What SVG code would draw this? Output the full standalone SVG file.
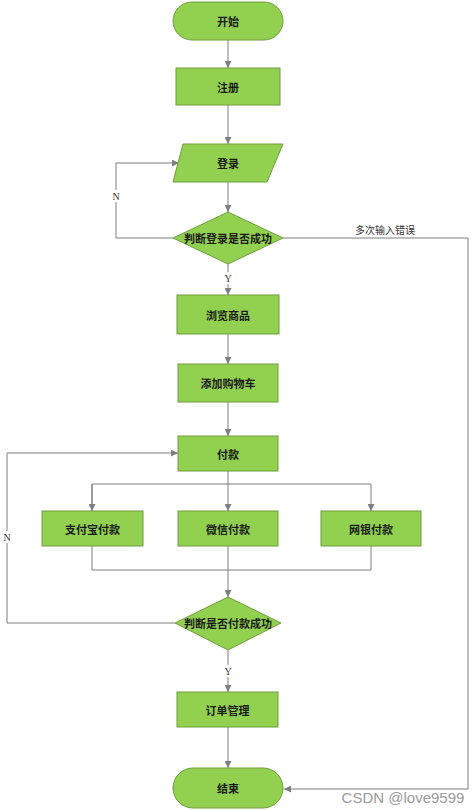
<svg xmlns="http://www.w3.org/2000/svg" width="474" height="810" viewBox="0 0 474 810">
<style>
.n{fill:#92D050;stroke:#6E9E3C;stroke-width:1}
.t{font-family:"Noto Sans CJK SC","Noto Sans",sans-serif;font-size:11px;font-weight:bold;fill:#1a1a1a;text-anchor:middle;dominant-baseline:central}
.c{fill:none;stroke:#7F7F7F;stroke-width:1}
.l{font-family:"Liberation Serif","Noto Sans CJK SC",serif;font-size:10px;fill:#333;text-anchor:middle;dominant-baseline:central}
</style>
<defs>
<marker id="a" viewBox="0 0 8 8" refX="8" refY="4" markerWidth="7" markerHeight="7" orient="auto" markerUnits="userSpaceOnUse">
<path d="M0,0 L8,4 L0,8 Z" fill="#7F7F7F"/>
</marker>
</defs>
<rect width="474" height="810" fill="#fff"/>
<g id="connectors">
<path class="c" d="M228,40 V68" marker-end="url(#a)"/>
<path class="c" d="M228,105 V144" marker-end="url(#a)"/>
<path class="c" d="M228,182 V212" marker-end="url(#a)"/>
<path class="c" d="M173,238 H116 V163 H179" marker-end="url(#a)"/>
<path class="c" d="M283,238 H468 V789 H284" marker-end="url(#a)"/>
<path class="c" d="M228,264 V295" marker-end="url(#a)"/>
<path class="c" d="M228,334 V364" marker-end="url(#a)"/>
<path class="c" d="M228,402 V436" marker-end="url(#a)"/>
<path class="c" d="M228,471 V511" marker-end="url(#a)"/>
<path class="c" d="M92,511 V484 H371 V511" marker-end="url(#a)"/>
<path class="c" d="M92,484 V511" marker-end="url(#a)"/>
<path class="c" d="M92,546 V570 H371 V546"/>
<path class="c" d="M228,546 V597" marker-end="url(#a)"/>
<path class="c" d="M175,623 H7 V453 H178" marker-end="url(#a)"/>
<path class="c" d="M228,650 V692" marker-end="url(#a)"/>
<path class="c" d="M228,727 V768" marker-end="url(#a)"/>
<rect x="110" y="190" width="12" height="12" fill="#fff"/>
<text class="l" x="116" y="196">N</text>
<rect x="1" y="531" width="12" height="12" fill="#fff"/>
<text class="l" x="7" y="537">N</text>
<rect x="222" y="272" width="12" height="12" fill="#fff"/>
<text class="l" x="228" y="278">Y</text>
<rect x="222" y="665" width="12" height="12" fill="#fff"/>
<text class="l" x="228" y="671">Y</text>
<text class="l" x="385" y="230" style="font-size:10px">多次输入错误</text>
</g>
<g id="start"><rect class="n" x="173" y="2" width="110" height="38" rx="19"/><text class="t" x="228" y="21">开始</text></g>
<g id="register"><rect class="n" x="176" y="68" width="104" height="37"/><text class="t" x="228" y="86.5">注册</text></g>
<g id="login"><polygon class="n" points="183,144 283,144 267,182 173,182"/><text class="t" x="228" y="163">登录</text></g>
<g id="judge-login"><polygon class="n" points="228,212 283,238 228,264 173,238"/><text class="t" x="228" y="238">判断登录是否成功</text></g>
<g id="browse"><rect class="n" x="177" y="295" width="102" height="39"/><text class="t" x="228" y="314.5">浏览商品</text></g>
<g id="cart"><rect class="n" x="178" y="364" width="100" height="38"/><text class="t" x="228" y="383">添加购物车</text></g>
<g id="pay"><rect class="n" x="178" y="436" width="100" height="35"/><text class="t" x="228" y="453.5">付款</text></g>
<g id="alipay"><rect class="n" x="42" y="511" width="101" height="35"/><text class="t" x="92.5" y="528.5">支付宝付款</text></g>
<g id="wechat"><rect class="n" x="178" y="511" width="100" height="35"/><text class="t" x="228" y="528.5">微信付款</text></g>
<g id="bank"><rect class="n" x="321" y="511" width="100" height="35"/><text class="t" x="371" y="528.5">网银付款</text></g>
<g id="judge-pay"><polygon class="n" points="228,597 281,623 228,650 175,623"/><text class="t" x="228" y="623">判断是否付款成功</text></g>
<g id="order"><rect class="n" x="177" y="692" width="101" height="35"/><text class="t" x="227.5" y="709.5">订单管理</text></g>
<g id="end"><rect class="n" x="173" y="768" width="110" height="40" rx="20"/><text class="t" x="228" y="788">结束</text></g>
<text x="403" y="797" style="font-family:'Liberation Sans',sans-serif;font-size:15px;fill:#9a9a9a;text-anchor:middle;dominant-baseline:central">CSDN @love9599</text>
</svg>
